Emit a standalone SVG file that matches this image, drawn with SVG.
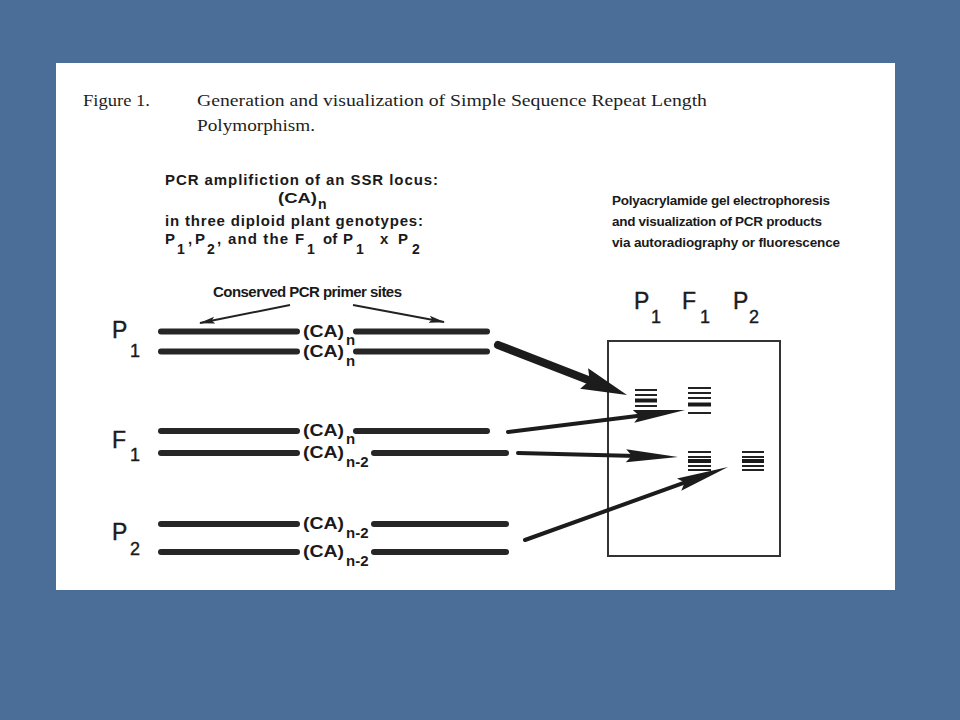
<svg xmlns="http://www.w3.org/2000/svg" width="960" height="720" viewBox="0 0 960 720">
<style>
.ser{font-family:"Liberation Serif","Times New Roman",serif;font-size:17px;fill:#1e1e1e}
.hd{font-family:"Liberation Sans",Arial,sans-serif;font-weight:bold;font-size:15px;fill:#1a1a1a}
.hr{font-family:"Liberation Sans",Arial,sans-serif;font-weight:bold;font-size:13.5px;fill:#1a1a1a}
.sub{font-size:14px}
.ca{font-family:"Liberation Sans",Arial,sans-serif;font-weight:bold;font-size:16px;fill:#1a1a1a}
.cs{font-family:"Liberation Sans",Arial,sans-serif;font-weight:bold;font-size:15px;fill:#1a1a1a}
.lab{font-family:"Liberation Sans",Arial,sans-serif;font-size:23px;fill:#1a1a1a;stroke:#1a1a1a;stroke-width:0.4}
.labs{font-family:"Liberation Sans",Arial,sans-serif;font-size:18px;fill:#1a1a1a;stroke:#1a1a1a;stroke-width:0.4}
.dna{stroke:#262626;stroke-width:6;stroke-linecap:round;fill:none}
.band{stroke:#222;stroke-width:2;fill:none}
.bandT{stroke:#1a1a1a;stroke-width:4;fill:none}
.arrBig{stroke:#1c1c1c;stroke-width:8;fill:none;stroke-linecap:round}
.arr{stroke:#1c1c1c;stroke-width:4;fill:none;stroke-linecap:round}
.prm{stroke:#222;stroke-width:2;fill:none}
</style>
<defs>
<marker id="headBig" markerUnits="userSpaceOnUse" viewBox="0 0 46 24" refX="21" refY="12" markerWidth="46" markerHeight="24" orient="auto">
<path d="M0,1 L46,12 L0,23 L6,12 Z" fill="#1c1c1c"/>
</marker>
<marker id="head" markerUnits="userSpaceOnUse" viewBox="0 0 52 14" refX="30" refY="7" markerWidth="52" markerHeight="14" orient="auto">
<path d="M0,0.5 L52,7 L0,13.5 L6,7 Z" fill="#1c1c1c"/>
</marker>
<marker id="headSm" markerUnits="userSpaceOnUse" viewBox="0 0 16 8" refX="15" refY="4" markerWidth="16" markerHeight="8" orient="auto">
<path d="M0,0.5 L16,4 L0,7.5 L3,4 Z" fill="#222"/>
</marker>
</defs>

<rect x="0" y="0" width="960" height="720" fill="#4b6e98"/>
<rect x="56" y="63" width="839" height="527" fill="#ffffff"/>

<g id="title">
<text class="ser" x="83" y="106" textLength="67" lengthAdjust="spacingAndGlyphs">Figure 1.</text>
<text class="ser" x="197" y="106" textLength="510" lengthAdjust="spacingAndGlyphs">Generation and visualization of Simple Sequence Repeat Length</text>
<text class="ser" x="197" y="131" textLength="118" lengthAdjust="spacingAndGlyphs">Polymorphism.</text>
</g>

<g id="pcr-heading">
<text class="hd" x="165" y="185" textLength="273" lengthAdjust="spacing">PCR amplifiction of an SSR locus:</text>
<text class="hd" x="278" y="203" textLength="39" lengthAdjust="spacingAndGlyphs">(CA)</text>
<text class="hd sub" x="318" y="209">n</text>
<text class="hd" x="165" y="226" textLength="258" lengthAdjust="spacing">in three diploid plant genotypes:</text>
<text class="hd"><tspan x="165" y="244">P</tspan><tspan class="sub" x="177" y="254">1</tspan><tspan x="188" y="244">,</tspan><tspan x="195" y="244">P</tspan><tspan class="sub" x="207" y="254">2</tspan><tspan x="217" y="244">,</tspan></text>
<text class="hd" x="228" y="244" textLength="60" lengthAdjust="spacing">and the</text>
<text class="hd"><tspan x="295" y="244">F</tspan><tspan class="sub" x="307" y="254">1</tspan><tspan x="323" y="244">of</tspan><tspan x="343" y="244">P</tspan><tspan class="sub" x="356" y="254">1</tspan><tspan x="380" y="244">x</tspan><tspan x="398" y="244">P</tspan><tspan class="sub" x="412" y="254">2</tspan></text>
<text class="hd" x="213" y="297" textLength="189" lengthAdjust="spacing">Conserved PCR primer sites</text>
</g>

<g id="gel-heading">
<text class="hr" x="612" y="205" textLength="218" lengthAdjust="spacing">Polyacrylamide gel electrophoresis</text>
<text class="hr" x="612" y="226" textLength="210" lengthAdjust="spacing">and visualization of PCR products</text>
<text class="hr" x="612" y="247" textLength="228" lengthAdjust="spacing">via autoradiography or fluorescence</text>
</g>

<g id="lane-labels">
<text class="lab" x="634" y="309">P</text><text class="labs" x="651" y="323">1</text>
<text class="lab" x="682" y="309">F</text><text class="labs" x="700" y="323">1</text>
<text class="lab" x="733" y="309">P</text><text class="labs" x="749" y="323">2</text>
</g>

<g id="genotype-P1">
<text class="lab" x="112" y="338">P</text><text class="labs" x="130" y="357">1</text>
<line class="dna" x1="161" y1="331.5" x2="297" y2="331.5"/>
<line class="dna" x1="356" y1="331.5" x2="487" y2="331.5"/>
<text class="ca" x="303" y="337" textLength="41" lengthAdjust="spacingAndGlyphs">(CA)</text><text class="cs" x="346" y="345">n</text>
<line class="dna" x1="161" y1="351.5" x2="297" y2="351.5"/>
<line class="dna" x1="356" y1="351.5" x2="487" y2="351.5"/>
<text class="ca" x="303" y="357" textLength="41" lengthAdjust="spacingAndGlyphs">(CA)</text><text class="cs" x="346" y="366">n</text>
</g>

<g id="genotype-F1">
<text class="lab" x="112" y="448">F</text><text class="labs" x="130" y="461">1</text>
<line class="dna" x1="161" y1="431" x2="297" y2="431"/>
<line class="dna" x1="356" y1="431" x2="487" y2="431"/>
<text class="ca" x="303" y="436" textLength="41" lengthAdjust="spacingAndGlyphs">(CA)</text><text class="cs" x="346" y="444">n</text>
<line class="dna" x1="161" y1="453" x2="297" y2="453"/>
<line class="dna" x1="374" y1="453" x2="506" y2="453"/>
<text class="ca" x="303" y="458" textLength="41" lengthAdjust="spacingAndGlyphs">(CA)</text><text class="cs" x="346" y="467">n-2</text>
</g>

<g id="genotype-P2">
<text class="lab" x="112" y="540">P</text><text class="labs" x="130" y="555">2</text>
<line class="dna" x1="161" y1="524" x2="297" y2="524"/>
<line class="dna" x1="374" y1="524" x2="506" y2="524"/>
<text class="ca" x="303" y="529" textLength="41" lengthAdjust="spacingAndGlyphs">(CA)</text><text class="cs" x="346" y="538">n-2</text>
<line class="dna" x1="161" y1="552" x2="297" y2="552"/>
<line class="dna" x1="374" y1="552" x2="506" y2="552"/>
<text class="ca" x="303" y="557" textLength="41" lengthAdjust="spacingAndGlyphs">(CA)</text><text class="cs" x="346" y="566">n-2</text>
</g>

<g id="gel">
<rect x="608" y="341" width="172" height="215" fill="#fff" stroke="#333" stroke-width="2"/>
<g id="lane-P1">
<line class="band" x1="635" y1="390" x2="657" y2="390"/>
<line class="band" x1="635" y1="395" x2="657" y2="395"/>
<line class="bandT" x1="635" y1="400.5" x2="657" y2="400.5"/>
<line class="band" x1="635" y1="406" x2="657" y2="406"/>
</g>
<g id="lane-F1">
<line class="band" x1="688" y1="388" x2="711" y2="388"/>
<line class="band" x1="688" y1="393" x2="711" y2="393"/>
<line class="band" x1="688" y1="398" x2="711" y2="398"/>
<line class="bandT" x1="688" y1="404.5" x2="711" y2="404.5"/>
<line class="band" x1="688" y1="413" x2="711" y2="413"/>
<line class="band" x1="688" y1="452" x2="711" y2="452"/>
<line class="band" x1="688" y1="457" x2="711" y2="457"/>
<line class="bandT" x1="688" y1="461" x2="711" y2="461"/>
<line class="band" x1="688" y1="466" x2="711" y2="466"/>
<line class="band" x1="688" y1="470" x2="711" y2="470"/>
</g>
<g id="lane-P2">
<line class="band" x1="742" y1="452" x2="764" y2="452"/>
<line class="band" x1="742" y1="457" x2="764" y2="457"/>
<line class="bandT" x1="742" y1="461" x2="764" y2="461"/>
<line class="band" x1="742" y1="466" x2="764" y2="466"/>
<line class="band" x1="742" y1="470" x2="764" y2="470"/>
</g>
</g>

<g id="connectors">
<line class="prm" x1="290" y1="305" x2="200" y2="323" marker-end="url(#headSm)"/>
<line class="prm" x1="353" y1="305" x2="444" y2="322" marker-end="url(#headSm)"/>
<line class="arrBig" x1="498" y1="345" x2="603.7" y2="386" marker-end="url(#headBig)"/>
<line class="arr" x1="508" y1="432" x2="663.2" y2="412.7" marker-end="url(#head)"/>
<line class="arr" x1="518" y1="453" x2="656" y2="456.4" marker-end="url(#head)"/>
<line class="arr" x1="525" y1="540" x2="707.3" y2="474.4" marker-end="url(#head)"/>
</g>
</svg>
